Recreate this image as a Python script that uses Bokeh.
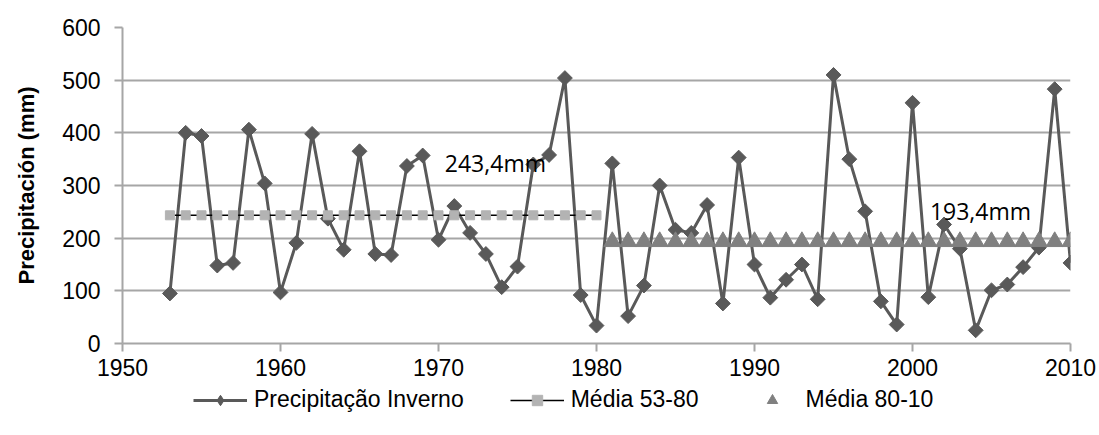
from bokeh.plotting import figure
from bokeh.layouts import column
from bokeh.models import Range1d, FixedTicker, Legend, LegendItem, Label
from bokeh.embed import file_html
from bokeh.resources import INLINE
import math

# ---- data ----
years = list(range(1953, 2011))
precip = [95, 400, 394, 148, 153, 406, 304, 97, 191, 398,
          237, 178, 365, 170, 168, 337, 357, 197, 261, 210,
          170, 107, 146, 340, 358, 504, 92, 34, 342, 52,
          110, 300, 216, 210, 263, 76, 353, 150, 87, 121,
          150, 84, 510, 350, 251, 80, 36, 457, 88, 226,
          180, 25, 101, 112, 145, 182, 483, 153]
years_53_80 = list(range(1953, 1981))
media_53_80 = [243.4] * len(years_53_80)
years_80_10 = list(range(1981, 2011))
media_80_10 = [193.4] * len(years_80_10)
label_53_80 = "243,4mm"
label_80_10 = "193,4mm"
x_ticks = [1950, 1960, 1970, 1980, 1990, 2000, 2010]
y_ticks = [0, 100, 200, 300, 400, 500, 600]
series_names = ["Precipitação Inverno", "Média 53-80", "Média 80-10"]
y_title = "Precipitación (mm)"

GRID = "#a6a6a6"
DARK = "#595959"
SQ = "#b3b3b3"
TRI = "#808080"
FONT = "Liberation Sans"

# ---------------- main chart ----------------
p = figure(width=1099, height=386, output_backend="svg", toolbar_location=None,
           x_range=Range1d(1950, 2010), y_range=Range1d(0, 600),
           min_border_left=122, min_border_right=29, min_border_top=27,
           min_border_bottom=43)
p.outline_line_color = None
p.background_fill_color = "white"
p.border_fill_color = "white"

p.xgrid.grid_line_color = None
p.ygrid.grid_line_color = GRID
p.ygrid.grid_line_width = 2
p.ygrid.ticker = FixedTicker(ticks=y_ticks)

p.xaxis.ticker = FixedTicker(ticks=x_ticks)
p.yaxis.ticker = FixedTicker(ticks=y_ticks)
for ax in (p.xaxis[0], p.yaxis[0]):
    ax.axis_line_color = GRID
    ax.axis_line_width = 2
    ax.major_tick_line_color = GRID
    ax.major_tick_line_width = 2
    ax.major_tick_out = 8
    ax.major_tick_in = 0
    ax.minor_tick_line_color = None
    ax.major_label_text_font = FONT
    ax.major_label_text_font_size = "23px"
    ax.major_label_text_color = "black"
p.xaxis.major_label_standoff = 7
p.yaxis.major_label_standoff = 14
p.yaxis.axis_label = y_title
p.yaxis.axis_label_text_font = FONT
p.yaxis.axis_label_text_font_style = "bold"
p.yaxis.axis_label_text_font_size = "22px"
p.yaxis.axis_label_text_color = "black"
p.yaxis.axis_label_standoff = 20

p.line(years, precip, line_color=DARK, line_width=3)
p.scatter(years, precip, marker="square", angle=math.pi / 4, size=10.5,
          fill_color=DARK, line_color=DARK)
p.line(years_53_80, media_53_80, line_color="black", line_width=1.5)
p.scatter(years_53_80, media_53_80, marker="square", size=9,
          fill_color=SQ, line_color=SQ)
p.scatter(years_80_10, media_80_10, marker="triangle", size=17,
          fill_color=TRI, line_color=TRI)

p.add_layout(Label(x=1970.4, y=342, text=label_53_80, text_font="Open Sans",
                   text_font_size="23px", text_baseline="middle", text_color="black"))
p.add_layout(Label(x=2001.1, y=252, text=label_80_10, text_font="Open Sans",
                   text_font_size="23px", text_baseline="middle", text_color="black"))

# ---------------- legend strip ----------------
# same series drawn in an out-of-view range: only their legend glyphs show
q = figure(width=1099, height=49, output_backend="svg", toolbar_location=None,
           x_range=Range1d(0, 1), y_range=Range1d(0, 1),
           x_axis_location=None, y_axis_location=None,
           min_border_left=0, min_border_right=0, min_border_top=0,
           min_border_bottom=0)
q.outline_line_color = None
q.grid.visible = False
ql1 = q.line(years, precip, line_color=DARK, line_width=3)
qs1 = q.scatter(years, precip, marker="diamond", fill_color=DARK, line_color=DARK)
ql2 = q.line(years_53_80, media_53_80, line_color="black", line_width=1.5)
qs2 = q.scatter(years_53_80, media_53_80, marker="square", fill_color=SQ, line_color=SQ)
qs3 = q.scatter(years_80_10, media_80_10, marker="triangle", fill_color=TRI, line_color=TRI)

legend = Legend(items=[LegendItem(label=series_names[0], renderers=[ql1, qs1]),
                       LegendItem(label=series_names[1], renderers=[ql2, qs2]),
                       LegendItem(label=series_names[2], renderers=[qs3])],
                location=(71, 22), orientation="horizontal",
                padding=0, margin=0, spacing=46, glyph_width=54, glyph_height=26,
                label_height=26, label_standoff=7,
                label_text_font=FONT, label_text_font_size="23px",
                label_text_color="black", border_line_alpha=0,
                background_fill_alpha=0)
q.add_layout(legend, "center")

layout = column(p, q, spacing=0)
open("out.html", "w").write(file_html(layout, INLINE))
